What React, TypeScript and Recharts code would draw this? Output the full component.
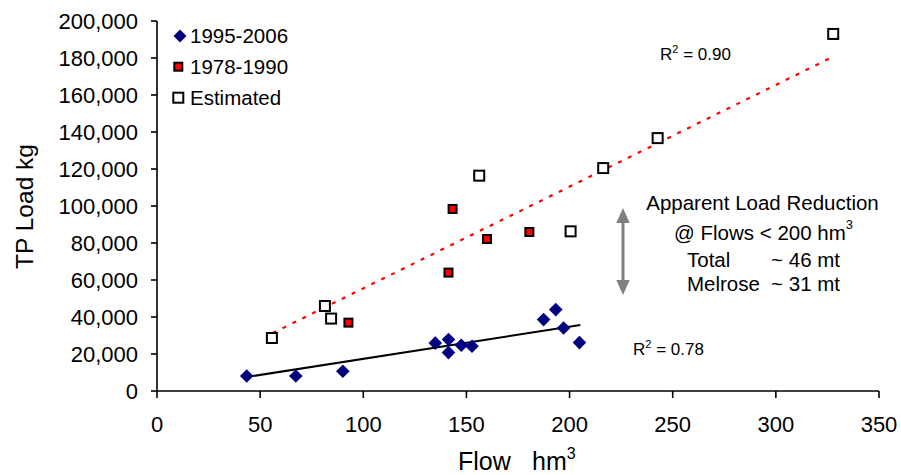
import React from 'react';
import { ScatterChart, Scatter, XAxis, YAxis, Legend } from 'recharts';

const FONT = 'Liberation Sans, Arial, Helvetica, sans-serif';

const recent = [
  { flow: 43.5, load: 8100 },
  { flow: 67.3, load: 8100 },
  { flow: 90.1, load: 10650 },
  { flow: 134.9, load: 25900 },
  { flow: 141.3, load: 27800 },
  { flow: 141.3, load: 20750 },
  { flow: 147.5, load: 24700 },
  { flow: 152.7, load: 24150 },
  { flow: 187.4, load: 38600 },
  { flow: 193.3, load: 44000 },
  { flow: 197.1, load: 34050 },
  { flow: 204.8, load: 26150 },
];

const early = [
  { flow: 143.3, load: 98400 },
  { flow: 160.0, load: 82150 },
  { flow: 141.3, load: 64000 },
  { flow: 92.8, load: 36950 },
  { flow: 180.5, load: 85950 },
];

const estimated = [
  { flow: 55.7, load: 28650 },
  { flow: 81.4, load: 45950 },
  { flow: 84.4, load: 39150 },
  { flow: 156.2, load: 116400 },
  { flow: 200.5, load: 86300 },
  { flow: 216.3, load: 120500 },
  { flow: 242.7, load: 136700 },
  { flow: 327.8, load: 193000 },
];

const recentTrend = [
  { flow: 43.5, load: 7570 },
  { flow: 205.2, load: 35670 },
];

const estimatedTrend = [
  { flow: 56.1, load: 31350 },
  { flow: 327.4, load: 180500 },
];

const xTicks = [0, 50, 100, 150, 200, 250, 300, 350];
const yTicks = [0, 20000, 40000, 60000, 80000, 100000, 120000, 140000, 160000, 180000, 200000];

const seriesNames = ['1995-2006', '1978-1990', 'Estimated'];

const Diamond = (props: any) => {
  const { cx, cy } = props;
  const r = 6.8;
  return <polygon points={`${cx},${cy - r} ${cx + r},${cy} ${cx},${cy + r} ${cx - r},${cy}`} fill="#000080" />;
};

const RedSquare = (props: any) => {
  const { cx, cy } = props;
  return <rect x={cx - 4} y={cy - 4} width={8} height={8} fill="#ff0000" stroke="#000" strokeWidth={2} />;
};

const OpenSquare = (props: any) => {
  const { cx, cy } = props;
  return <rect x={cx - 5} y={cy - 5} width={10} height={10} fill="#fff" stroke="#000" strokeWidth={2} />;
};

const NoShape = () => <g />;

const fmt = (v: number) => v.toLocaleString('en-US');

const LegendContent = () => (
  <svg width={300} height={120} style={{ overflow: 'visible' }}>
    <polygon points="180,29.5 186.5,36 180,42.5 173.5,36" fill="#000080" />
    <text x={190} y={43} fontSize={20.5} fontFamily={FONT} fill="#000">{seriesNames[0]}</text>
    <rect x={174.3} y={62.7} width={8} height={8} fill="#ff0000" stroke="#000" strokeWidth={2} />
    <text x={190} y={73.5} fontSize={20.5} fontFamily={FONT} fill="#000">{seriesNames[1]}</text>
    <rect x={173.3} y={92.7} width={10} height={10} fill="#fff" stroke="#000" strokeWidth={2} />
    <text x={190} y={104.5} fontSize={20.5} fontFamily={FONT} fill="#000">{seriesNames[2]}</text>
  </svg>
);

export default function App() {
  return (
    <div style={{ position: 'absolute', left: 0, top: 0, width: 901, height: 475, background: '#fff' }}>
      <ScatterChart width={901} height={475} margin={{ top: 21, right: 22, bottom: 24, left: 0 }}>
        <XAxis
          type="number"
          dataKey="flow"
          domain={[0, 350]}
          ticks={xTicks}
          interval={0}
          height={60}
          axisLine={{ stroke: '#000', strokeWidth: 1.6 }}
          tickLine={{ stroke: '#000', strokeWidth: 1.6 }}
          tickSize={7}
          tickMargin={18}
          tick={{ fill: '#000', fontSize: 22, fontFamily: FONT }}
          allowDataOverflow
        />
        <YAxis
          type="number"
          dataKey="load"
          domain={[0, 200000]}
          ticks={yTicks}
          interval={0}
          width={157}
          axisLine={{ stroke: '#000', strokeWidth: 1.6 }}
          tickLine={{ stroke: '#000', strokeWidth: 1.6 }}
          tickSize={6}
          tickMargin={13}
          tickFormatter={fmt}
          tick={{ fill: '#000', fontSize: 22, fontFamily: FONT }}
          allowDataOverflow
        />
        <Legend
          layout="vertical"
          align="center"
          verticalAlign="middle"
          wrapperStyle={{ position: 'absolute', left: 0, top: 0, width: 300, height: 120 }}
          content={LegendContent}
        />
        <Scatter
          name="est-trend"
          data={estimatedTrend}
          line={{ stroke: '#ff0000', strokeWidth: 2.2, strokeDasharray: '4 7' }}
          lineType="joint"
          shape={NoShape}
          legendType="none"
          isAnimationActive={false}
        />
        <Scatter
          name="recent-trend"
          data={recentTrend}
          line={{ stroke: '#000', strokeWidth: 2 }}
          lineType="joint"
          shape={NoShape}
          legendType="none"
          isAnimationActive={false}
        />
        <Scatter name={seriesNames[2]} data={estimated} shape={OpenSquare} isAnimationActive={false} />
        <Scatter name={seriesNames[1]} data={early} shape={RedSquare} isAnimationActive={false} />
        <Scatter name={seriesNames[0]} data={recent} shape={Diamond} isAnimationActive={false} />
      </ScatterChart>
      <svg
        width={901}
        height={475}
        style={{ position: 'absolute', left: 0, top: 0, pointerEvents: 'none' }}
        fontFamily={FONT}
      >
        <text x={33} y={206.5} fontSize={24.5} textAnchor="middle" transform="rotate(-90 33 206.5)" fill="#000">
          TP Load kg
        </text>
        <text y={470} fontSize={25} fill="#000">
          <tspan x={458}>Flow</tspan>
          <tspan x={532}>hm</tspan>
          <tspan dy={-11} fontSize={16}>3</tspan>
        </text>
        <text y={60} fontSize={17} fill="#000">
          <tspan x={660}>R</tspan>
          <tspan dy={-7} fontSize={11}>2</tspan>
          <tspan dy={7}> = 0.90</tspan>
        </text>
        <text y={355} fontSize={17} fill="#000">
          <tspan x={633}>R</tspan>
          <tspan dy={-7} fontSize={11}>2</tspan>
          <tspan dy={7}> = 0.78</tspan>
        </text>
        <line x1={623} y1={220} x2={623} y2={283} stroke="#808080" strokeWidth={3} />
        <polygon points="623,208 629.7,223 616.3,223" fill="#808080" />
        <polygon points="623,295 629.7,280 616.3,280" fill="#808080" />
        <text x={762.5} y={210} fontSize={20.5} textAnchor="middle" fill="#000">Apparent Load Reduction</text>
        <text y={240} fontSize={20.5} textAnchor="start" fill="#000">
          <tspan x={674}>@ Flows &lt; 200 hm</tspan>
          <tspan dy={-11} fontSize={13}>3</tspan>
        </text>
        <text x={687} y={266.5} fontSize={20.5} fill="#000">Total</text>
        <text x={840} y={266.5} fontSize={20.5} textAnchor="end" fill="#000">~ 46 mt</text>
        <text x={687} y={290.5} fontSize={20.5} fill="#000">Melrose</text>
        <text x={840} y={290.5} fontSize={20.5} textAnchor="end" fill="#000">~ 31 mt</text>
      </svg>
    </div>
  );
}
